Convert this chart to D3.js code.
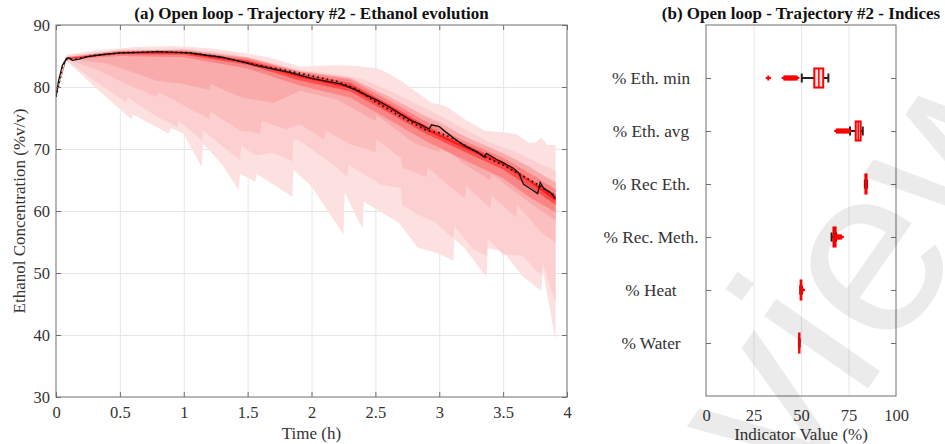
<!DOCTYPE html>
<html>
<head>
<meta charset="utf-8">
<script src="https://cdn.jsdelivr.net/npm/d3@7"></script>
<style>
  body { margin: 0; background: #fff; }
  text { font-family: "Liberation Serif", "Times New Roman", serif; }
</style>
</head>
<body>
<svg id="chart" width="945" height="444"></svg>
<script>
// ---- panel (a): ethanol evolution, [time h, %v/v] ----
const medianRun = [[0,78.4],[0.02,81],[0.05,83.5],[0.08,84.5],[0.1,84.7],[0.13,84.3],[0.18,84.5],[0.25,84.9],[0.35,85.2],[0.5,85.5],[0.65,85.6],[0.8,85.7],[0.95,85.6],[1.05,85.5],[1.15,85.2],[1.3,84.8],[1.45,84.1],[1.56,83.5],[1.7,82.9],[1.82,82.4],[1.91,81.9],[2.0,81.4],[2.1,81.0],[2.23,80.5],[2.35,79.5],[2.45,78.5],[2.52,77.8],[2.6,76.9],[2.7,75.6],[2.78,74.6],[2.85,74.0],[2.92,73.2],[2.94,73.9],[3.0,73.6],[3.06,72.6],[3.13,71.5],[3.2,70.5],[3.3,69.5],[3.35,68.7],[3.37,69.3],[3.45,68.3],[3.5,67.8],[3.58,66.9],[3.62,66.2],[3.66,64.3],[3.72,63.5],[3.77,62.8],[3.79,64.6],[3.82,63.6],[3.87,63.0],[3.91,62.0]];
const nominalRun = [[0,78.4],[0.05,83.3],[0.08,84.4],[0.15,84.5],[0.3,85.1],[0.5,85.5],[0.8,85.7],[1.05,85.5],[1.3,84.8],[1.56,83.6],[1.82,82.6],[2.0,81.8],[2.2,80.9],[2.35,79.7],[2.5,77.6],[2.7,75.2],[2.9,73.0],[3.0,72.6],[3.1,71.8],[3.2,70.6],[3.35,68.8],[3.5,67.4],[3.65,65.7],[3.8,63.9],[3.91,62.4]];

const band1Upper = [[0,78.4],[0.08,85.2],[0.3,85.9],[0.6,86.4],[0.9,86.6],[1.1,86.4],[1.3,86.0],[1.5,85.4],[1.7,84.6],[1.91,83.3],[2.0,83.4],[2.2,83.5],[2.35,83.4],[2.52,83.0],[2.6,82.2],[2.7,81.0],[2.8,79.5],[2.94,77.4],[3.0,77.2],[3.07,76.7],[3.15,75.5],[3.2,74.8],[3.36,72.9],[3.45,72.8],[3.6,72.4],[3.7,71.0],[3.75,71.0],[3.8,71.8],[3.85,70.6],[3.91,70.7]];
const band1Lower = [[0,78.4],[0.08,84.3],[0.33,79.5],[0.59,74.8],[0.6,75.6],[0.88,72.5],[0.9,73.4],[1.0,72.4],[1.14,67.1],[1.15,70.9],[1.3,67.5],[1.43,63.4],[1.44,66.0],[1.56,64.7],[1.57,66.0],[1.85,62.3],[1.86,66.6],[2.0,64.0],[2.25,56.2],[2.26,63.0],[2.4,57.1],[2.41,61.5],[2.54,59.9],[2.69,58.0],[2.83,54.1],[2.97,53.3],[3.11,52.0],[3.12,55.5],[3.2,54.0],[3.37,49.3],[3.38,54.0],[3.5,53.5],[3.65,49.5],[3.8,47.1],[3.81,50.5],[3.91,39.2]];
const band2Upper = [[0,78.4],[0.08,85.0],[0.5,86.0],[1.0,86.2],[1.3,85.6],[1.6,84.4],[1.91,82.8],[2.2,82.0],[2.4,81.3],[2.6,79.5],[2.8,77.5],[3.0,75.5],[3.2,73.2],[3.4,71.0],[3.6,69.5],[3.8,67.5],[3.91,66.5]];
const band2Lower = [[0,78.4],[0.08,84.4],[0.3,81.0],[0.55,77.5],[0.56,78.3],[0.79,75.2],[0.95,73.5],[0.96,74.5],[1.14,71.5],[1.15,73.0],[1.3,70.5],[1.44,68.2],[1.45,70.5],[1.56,69.0],[1.7,69.4],[1.85,68.0],[1.86,71.6],[1.91,71.3],[2.17,67.5],[2.28,65.5],[2.29,67.5],[2.4,66.0],[2.55,64.2],[2.7,63.7],[2.71,61.0],[2.83,59.4],[2.97,58.2],[3.11,55.5],[3.12,57.5],[3.26,53.9],[3.37,52.8],[3.38,55.5],[3.5,53.0],[3.65,52.8],[3.8,49.5],[3.81,51.5],[3.91,45.2]];
const band3Upper = [[0,78.4],[0.08,84.9],[0.5,85.8],[1.0,86.0],[1.3,85.3],[1.6,84.0],[1.91,82.4],[2.2,81.3],[2.4,80.2],[2.6,78.2],[2.8,76.0],[3.0,74.5],[3.2,72.0],[3.4,70.0],[3.6,68.0],[3.8,65.8],[3.91,64.8]];
const band3Lower = [[0,78.4],[0.08,84.5],[0.3,83.0],[0.55,80.5],[0.79,78.4],[0.8,79.2],[1.0,77.0],[1.2,74.8],[1.21,76.0],[1.44,73.0],[1.6,72.5],[1.61,74.5],[1.8,73.2],[1.91,74.0],[2.1,71.5],[2.11,73.0],[2.3,70.8],[2.5,69.5],[2.51,71.5],[2.7,68.5],[2.71,67.0],[2.9,65.5],[2.91,67.0],[3.05,64.5],[3.2,62.0],[3.21,64.0],[3.4,60.5],[3.41,62.5],[3.6,59.0],[3.61,61.0],[3.8,56.5],[3.91,55.0]];
const band4Upper = [[0,78.4],[0.08,84.8],[0.5,85.9],[1.0,86.0],[1.5,84.8],[1.9,82.6],[2.3,81.5],[2.6,78.5],[2.9,75.2],[3.2,72.0],[3.5,69.3],[3.7,67.2],[3.91,64.5]];
const band4Lower = [[0,78.4],[0.08,84.6],[0.4,83.8],[0.79,81.0],[1.0,80.5],[1.2,79.5],[1.21,80.5],[1.44,78.4],[1.7,77.4],[1.91,79.4],[2.2,78.0],[2.5,74.5],[2.51,75.5],[2.8,71.0],[3.0,69.5],[3.01,70.5],[3.2,67.5],[3.4,65.0],[3.41,66.0],[3.6,63.0],[3.8,60.0],[3.91,58.5]];
const band5Upper = [[0,78.4],[0.08,84.8],[0.5,85.8],[1.0,85.9],[1.5,84.6],[1.9,82.5],[2.3,81.2],[2.6,77.9],[2.9,74.4],[3.2,71.3],[3.5,68.6],[3.7,66.2],[3.91,63.5]];
const band5Lower = [[0,78.4],[0.08,84.4],[0.5,85.0],[1.0,84.8],[1.5,83.0],[1.9,80.3],[2.3,78.3],[2.6,74.8],[2.9,71.2],[3.2,68.2],[3.5,65.3],[3.7,62.3],[3.91,59.8]];
const band6Upper = [[0,78.4],[0.08,84.7],[0.5,85.6],[1.0,85.7],[1.5,84.3],[1.9,82.2],[2.3,80.7],[2.6,77.3],[2.9,73.7],[3.2,70.8],[3.5,68.0],[3.7,65.3],[3.91,62.7]];
const band6Lower = [[0,78.4],[0.08,84.5],[0.5,85.3],[1.0,85.2],[1.5,83.6],[1.9,81.1],[2.3,79.3],[2.6,75.9],[2.9,72.4],[3.2,69.5],[3.5,66.7],[3.7,64.0],[3.91,61.0]];
const band7Upper = [[0,78.4],[0.08,84.6],[0.5,85.5],[1.0,85.6],[1.5,84.1],[1.9,82.0],[2.3,80.3],[2.6,77.0],[2.9,73.4],[3.2,70.5],[3.5,67.8],[3.7,65.0],[3.91,62.4]];
const band7Lower = [[0,78.4],[0.08,84.5],[0.5,85.4],[1.0,85.4],[1.5,83.9],[1.9,81.6],[2.3,79.8],[2.6,76.5],[2.9,73.0],[3.2,70.1],[3.5,67.4],[3.7,64.8],[3.91,61.6]];
const bandColors = ['#fde0e0', '#fcd0d0', '#fbbfbf', '#f9aaaa', '#fb8585', '#fd4d4d', '#ff1a1a'];

const timeTicks = [0, 0.5, 1, 1.5, 2, 2.5, 3, 3.5, 4];
const concTicks = [30, 40, 50, 60, 70, 80, 90];

// ---- panel (b): indices box plots ----
const indexNames = ['% Eth. min', '% Eth. avg', '% Rec Eth.', '% Rec. Meth.', '% Heat', '% Water'];
const whiskerLow = [50.4, 75.8, 83.6, 66.1, 49.6, 48.9];
const quart1 = [57.0, 78.8, 83.9, 67.1, 49.8, 49.0];
const medians = [59.4, 80.1, 84.2, 67.6, 50.0, 49.1];
const quart3 = [61.7, 81.4, 84.5, 68.2, 50.2, 49.2];
const whiskerHigh = [64.4, 82.5, 84.8, 68.5, 50.5, 49.3];
const outliers = [
  [32.8, 41.2, 41.8, 42.5, 43.1, 43.7, 44.4, 45.0, 45.6, 46.3, 47.0, 47.8],
  [68.8, 69.5, 70.2, 71.0, 71.7, 72.4, 73.1, 73.8, 74.5, 75.2],
  [],
  [68.8, 69.4, 70.0, 70.6, 71.2],
  [50.8],
  []
];
const indexTicks = [0, 25, 50, 75, 100];

const svg = d3.select('#chart');
const ink = '#333';
const frameInk = '#6e6e6e';
const tickFont = '16.5px';
const labelFont = '17px';

// ---------- panel (a) ----------
const xL = d3.scaleLinear().domain([0, 4]).range([56, 567]);
const yL = d3.scaleLinear().domain([30, 90]).range([397, 25]);

const gA = svg.append('g');
gA.append('g')
  .attr('transform', `translate(0,${yL(30)})`)
  .call(d3.axisBottom(xL).tickValues(timeTicks.slice(1, -1)).tickSize(-(yL(30) - yL(90))).tickFormat(''))
  .call(g => g.select('.domain').remove())
  .selectAll('line').attr('stroke', '#e6e6e6');
gA.append('g')
  .attr('transform', `translate(${xL(0)},0)`)
  .call(d3.axisLeft(yL).tickValues(concTicks.slice(1, -1)).tickSize(-(xL(4) - xL(0))).tickFormat(''))
  .call(g => g.select('.domain').remove())
  .selectAll('line').attr('stroke', '#e6e6e6');

svg.append('clipPath').attr('id', 'clipA')
  .append('rect').attr('x', xL(0)).attr('y', yL(90)).attr('width', xL(4) - xL(0)).attr('height', yL(30) - yL(90));

const bandPairs = [
  [band1Upper, band1Lower], [band2Upper, band2Lower], [band3Upper, band3Lower],
  [band4Upper, band4Lower], [band5Upper, band5Lower], [band6Upper, band6Lower],
  [band7Upper, band7Lower]
];
const ptLine = d3.line().x(d => xL(d[0])).y(d => yL(d[1]));
const bandsG = gA.append('g').attr('clip-path', 'url(#clipA)');
bandPairs.forEach((pair, i) => {
  const poly = pair[0].concat(pair[1].slice().reverse());
  bandsG.append('path')
    .attr('d', ptLine(poly) + 'Z')
    .attr('fill', bandColors[i])
    .attr('stroke', 'none');
});
bandsG.append('path')
  .attr('d', ptLine(nominalRun))
  .attr('fill', 'none')
  .attr('stroke', '#111')
  .attr('stroke-width', 1.8)
  .attr('stroke-dasharray', '1.6 3.2');
bandsG.append('path')
  .attr('d', ptLine(medianRun))
  .attr('fill', 'none')
  .attr('stroke', '#111')
  .attr('stroke-width', 1.3);

gA.append('rect')
  .attr('x', xL(0)).attr('y', yL(90))
  .attr('width', xL(4) - xL(0)).attr('height', yL(30) - yL(90))
  .attr('fill', 'none').attr('stroke', frameInk).attr('stroke-width', 1);

function styleTicks(g) {
  g.select('.domain').remove();
  g.selectAll('line').attr('stroke', frameInk);
  g.selectAll('text').attr('fill', ink).style('font-size', tickFont);
}
gA.append('g').attr('transform', `translate(0,${yL(30)})`)
  .call(d3.axisBottom(xL).tickValues(timeTicks).tickSize(-5).tickPadding(9).tickFormat(d3.format('')))
  .call(styleTicks);
gA.append('g').attr('transform', `translate(0,${yL(90)})`)
  .call(d3.axisTop(xL).tickValues(timeTicks).tickSize(-5).tickFormat(''))
  .call(styleTicks);
gA.append('g').attr('transform', `translate(${xL(0)},0)`)
  .call(d3.axisLeft(yL).tickValues(concTicks).tickSize(-5).tickPadding(6))
  .call(styleTicks);
gA.append('g').attr('transform', `translate(${xL(4)},0)`)
  .call(d3.axisRight(yL).tickValues(concTicks).tickSize(-5).tickFormat(''))
  .call(styleTicks);

gA.append('text')
  .attr('x', (xL(0) + xL(4)) / 2).attr('y', 19)
  .attr('text-anchor', 'middle').attr('font-weight', 'bold').attr('fill', '#111')
  .style('font-size', labelFont)
  .text('(a) Open loop - Trajectory #2 - Ethanol evolution');
gA.append('text')
  .attr('x', (xL(0) + xL(4)) / 2).attr('y', 439)
  .attr('text-anchor', 'middle').attr('fill', ink)
  .style('font-size', labelFont)
  .text('Time (h)');
gA.append('text')
  .attr('transform', `translate(25,${(yL(30) + yL(90)) / 2}) rotate(-90)`)
  .attr('text-anchor', 'middle').attr('fill', ink)
  .style('font-size', labelFont)
  .text('Ethanol Concentration (%v/v)');

// ---------- panel (b) ----------
const xR = d3.scaleLinear().domain([0, 100]).range([706, 896]);
const yR = d3.scaleLinear().domain([0, 7]).range([25, 396]);
const gB = svg.append('g');

gB.append('g')
  .attr('transform', `translate(0,${yR(7)})`)
  .call(d3.axisBottom(xR).tickValues([25, 50, 75]).tickSize(-(yR(7) - yR(0))).tickFormat(''))
  .call(g => g.select('.domain').remove())
  .selectAll('line').attr('stroke', '#e6e6e6');

const boxHalf = 0.18;
const capHalf = 0.085;
indexNames.forEach((name, i) => {
  const yc = yR(i + 1);
  const row = gB.append('g');
  row.append('line')
    .attr('x1', xR(whiskerLow[i])).attr('x2', xR(whiskerHigh[i]))
    .attr('y1', yc).attr('y2', yc)
    .attr('stroke', '#222').attr('stroke-width', 2);
  [whiskerLow[i], whiskerHigh[i]].forEach(v => {
    row.append('line')
      .attr('x1', xR(v)).attr('x2', xR(v))
      .attr('y1', yR(i + 1 - capHalf)).attr('y2', yR(i + 1 + capHalf))
      .attr('stroke', '#222').attr('stroke-width', 2);
  });
  row.append('rect')
    .attr('x', xR(quart1[i])).attr('y', yR(i + 1 - boxHalf))
    .attr('width', xR(quart3[i]) - xR(quart1[i]))
    .attr('height', yR(i + 1 + boxHalf) - yR(i + 1 - boxHalf))
    .attr('fill', '#ffe3e3').attr('stroke', '#ff0000').attr('stroke-width', 2);
  row.append('line')
    .attr('x1', xR(medians[i])).attr('x2', xR(medians[i]))
    .attr('y1', yR(i + 1 - boxHalf)).attr('y2', yR(i + 1 + boxHalf))
    .attr('stroke', '#ff0000').attr('stroke-width', 1.5);
  row.selectAll('path.outlier')
    .data(outliers[i])
    .join('path')
    .attr('class', 'outlier')
    .attr('transform', d => `translate(${xR(d)},${yc})`)
    .attr('d', d3.symbol(d3.symbolPlus, 10))
    .attr('fill', 'none').attr('stroke', '#ff0000').attr('stroke-width', 2);
});

gB.append('rect')
  .attr('x', xR(0)).attr('y', yR(0))
  .attr('width', xR(100) - xR(0)).attr('height', yR(7) - yR(0))
  .attr('fill', 'none').attr('stroke', frameInk).attr('stroke-width', 1);

gB.append('g').attr('transform', `translate(0,${yR(7)})`)
  .call(d3.axisBottom(xR).tickValues(indexTicks).tickSize(0).tickPadding(13))
  .call(styleTicks);
gB.append('g').attr('transform', `translate(${xR(0)},0)`)
  .call(d3.axisLeft(yR).tickValues(d3.range(1, 7)).tickSize(-5).tickFormat(''))
  .call(styleTicks);
gB.append('g').attr('transform', `translate(${xR(100)},0)`)
  .call(d3.axisRight(yR).tickValues(d3.range(1, 7)).tickSize(-5).tickFormat(''))
  .call(styleTicks);
gB.selectAll('text.cat')
  .data(indexNames)
  .join('text')
  .attr('class', 'cat')
  .attr('x', 651).attr('y', (d, i) => yR(i + 1) + 6)
  .attr('text-anchor', 'middle').attr('fill', ink)
  .style('font-size', '17.3px')
  .text(d => d);

gB.append('text')
  .attr('x', (xR(0) + xR(100)) / 2).attr('y', 19)
  .attr('text-anchor', 'middle').attr('font-weight', 'bold').attr('fill', '#111')
  .style('font-size', labelFont)
  .text('(b) Open loop - Trajectory #2 - Indices');
gB.append('text')
  .attr('x', (xR(0) + xR(100)) / 2).attr('y', 440)
  .attr('text-anchor', 'middle').attr('fill', ink)
  .style('font-size', labelFont)
  .text('Indicator Value (%)');

// faint watermark
svg.append('text')
  .attr('transform', 'translate(790,500) rotate(-55)')
  .attr('fill', '#000').attr('fill-opacity', 0.08)
  .style('font-family', '"Liberation Sans", Arial, sans-serif')
  .style('font-size', '240px')
  .text('view');
</script>
</body>
</html>
